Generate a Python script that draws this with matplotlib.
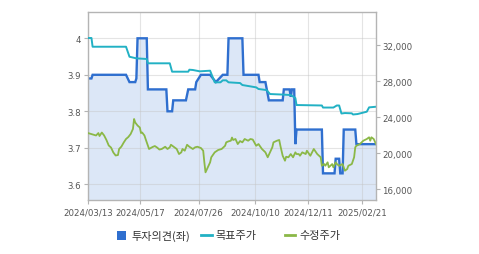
import matplotlib
matplotlib.use("Agg")
import matplotlib.pyplot as plt
from matplotlib.lines import Line2D
from matplotlib.patches import Rectangle
from matplotlib.ticker import FuncFormatter

plt.rcParams["font.family"] = ["DejaVu Sans", "Noto Sans CJK KR"]

# ── data (x = trading-day index from 2024/03/13) ──
tick_pos = [0, 45, 96, 145, 191, 238]
tick_labels = ["2024/03/13", "2024/05/17", "2024/07/26", "2024/10/10", "2024/12/11", "2025/02/21"]

# 투자의견 (left axis)
opinion_idx = [0, 3, 4, 33, 36, 41, 42, 43, 51, 52, 68, 69, 73, 74, 85, 87, 93, 94, 98, 106,
               111, 114, 117, 121, 122, 134, 135, 148, 149, 154, 157, 169, 170, 175, 176, 177,
               179, 180, 181, 203, 204, 214, 215, 218, 219, 221, 222, 232, 233, 250]
opinion_val = [3.89, 3.89, 3.90, 3.90, 3.88, 3.88, 3.89, 4.00, 4.00, 3.86, 3.86, 3.80, 3.80, 3.83,
               3.83, 3.86, 3.86, 3.88, 3.90, 3.90, 3.88, 3.89, 3.90, 3.90, 4.00, 4.00, 3.90, 3.90,
               3.88, 3.88, 3.83, 3.83, 3.86, 3.86, 3.84, 3.86, 3.86, 3.71, 3.75, 3.75, 3.63, 3.63,
               3.67, 3.67, 3.63, 3.63, 3.75, 3.75, 3.71, 3.71]

# 목표주가 (right axis)
target_idx = [0, 3, 4, 33, 36, 42, 51, 52, 71, 73, 87, 88, 91, 97, 106, 110, 115, 117, 120, 122,
              132, 134, 146, 148, 155, 158, 169, 176, 180, 181, 203, 204, 213, 216, 218, 220,
              223, 229, 230, 234, 242, 244, 250]
target_val = [32780, 32780, 31810, 31810, 30700, 30520, 30450, 29970, 29970, 29040, 29040, 29260,
              29230, 29080, 29150, 27860, 27860, 28080, 28080, 27860, 27780, 27560, 27300, 27120,
              27000, 26560, 26500, 26450, 26120, 25340, 25290, 25060, 25060, 25290, 25290, 24400,
              24450, 24420, 24290, 24340, 24600, 25080, 25150]

# 수정주가 (right axis)
price_idx = [0, 4, 7, 9, 10, 12, 14, 16, 18, 20, 22, 24, 26, 27, 29, 31, 33, 35, 37, 39, 40, 41,
             43, 45, 46, 47, 49, 50, 52, 53, 56, 58, 60, 62, 64, 67, 69, 71, 72, 75, 77, 79, 81,
             82, 84, 86, 88, 91, 93, 95, 98, 100, 101, 102, 104, 106, 107, 110, 113, 116, 119,
             120, 122, 124, 125, 126, 128, 130, 132, 134, 136, 139, 141, 143, 146, 148, 151,
             154, 156, 158, 160, 161, 164, 166, 167, 169, 171, 172, 174, 176, 178, 180, 181,
             183, 184, 186, 189, 190, 193, 196, 199, 202, 203, 205, 206, 208, 209, 212, 213,
             215, 216, 218, 221, 223, 225, 226, 229, 231, 232, 233, 236, 239, 242, 244, 245,
             246, 248, 250]
price_val = [22230, 22070, 21960, 22230, 21900, 22290, 21960, 21460, 20850, 20620, 20070, 19740,
             19790, 20460, 20730, 21180, 21570, 21790, 22120, 22680, 23790, 23400, 23070, 22840,
             22230, 22290, 21960, 21570, 20850, 20460, 20680, 20790, 20620, 20400, 20460, 20710,
             20460, 20650, 20930, 20650, 20460, 19900, 20090, 20460, 20270, 20930, 20710, 20460,
             20650, 20710, 20570, 20270, 18980, 17870, 18430, 18980, 19540, 20090, 20350, 20460,
             20820, 21200, 21310, 21380, 21730, 21460, 21570, 21010, 21340, 21200, 21570, 21380,
             21570, 21510, 20820, 21010, 20460, 20090, 19540, 20090, 20650, 21200, 21380, 21460,
             20820, 19710, 19160, 19600, 19540, 19900, 19540, 20090, 19900, 19900, 19710, 20090,
             19900, 20270, 19710, 20460, 19900, 19540, 18600, 18790, 18600, 18980, 18430, 18790,
             18430, 18980, 18790, 18600, 18790, 18050, 18240, 18600, 18790, 19540, 20650, 20820,
             21010, 21380, 21570, 21760, 21380, 21760, 21570, 21010]

BLUE = "#2f6fcf"
FILL = "#dce7f7"
TEAL = "#22b1c4"
GREEN = "#8bb847"
SPINE = "#b4b4b4"
TXT = "#555555"

fig = plt.figure(figsize=(4.79, 2.55), dpi=100)
ax = fig.add_axes([88 / 479, 54 / 255, 288 / 479, 188.5 / 255])
ax2 = ax.twinx()

ax.fill_between(opinion_idx, opinion_val, 3.0, color=FILL, lw=0, zorder=0.3)
ax.plot(opinion_idx, opinion_val, color=BLUE, lw=1.7, zorder=2, solid_joinstyle="miter")
ax2.plot(target_idx, target_val, color=TEAL, lw=1.4)
ax2.plot(price_idx, price_val, color=GREEN, lw=1.3)

ax.set_xlim(0, 250)
ax.set_ylim(3.557, 4.0734)
ax2.set_ylim(14800, 35720)

ax.set_xticks(tick_pos)
ax.set_xticklabels(tick_labels)
ax.set_yticks([3.6, 3.7, 3.8, 3.9, 4.0])
ax.yaxis.set_major_formatter(FuncFormatter(lambda v, p: f"{v:g}"))
ax2.set_yticks([16000, 20000, 24000, 28000, 32000])
ax2.yaxis.set_major_formatter(FuncFormatter(lambda v, p: f"{int(v):,}"))

ax.set_axisbelow(True)
ax.grid(True, color="#c4c4c4", alpha=0.45, lw=0.8)

for s in ("top", "left", "bottom"):
    ax2.spines[s].set_visible(False)
ax.spines["right"].set_visible(False)
for a in (ax, ax2):
    for s in a.spines.values():
        s.set_color(SPINE)
        s.set_linewidth(1.0)
    a.tick_params(colors=SPINE, labelcolor=TXT, labelsize=6.2, length=3, width=0.8)
ax.tick_params(axis="y", pad=2)
ax.tick_params(axis="x", pad=2.5)
ax2.tick_params(axis="y", pad=1.5)

# legend drawn below the axes
ly = 1 - 236 / 255
fig.add_artist(Rectangle((117 / 479, ly - 4.5 / 255), 9 / 479, 9 / 255,
                         transform=fig.transFigure, color=BLUE, lw=0))
fig.add_artist(Line2D([201 / 479, 212 / 479], [ly, ly], transform=fig.transFigure,
                      color=TEAL, lw=2))
fig.add_artist(Line2D([285 / 479, 295 / 479], [ly, ly], transform=fig.transFigure,
                      color=GREEN, lw=2))
for x, label in [(131, "투자의견(좌)"), (215, "목표주가"), (299, "수정주가")]:
    fig.text(x / 479, ly, label, ha="left", va="center", fontsize=8, color="#333333",
             family=["Noto Sans CJK KR", "DejaVu Sans"])

fig.savefig("out.png", dpi=100)
